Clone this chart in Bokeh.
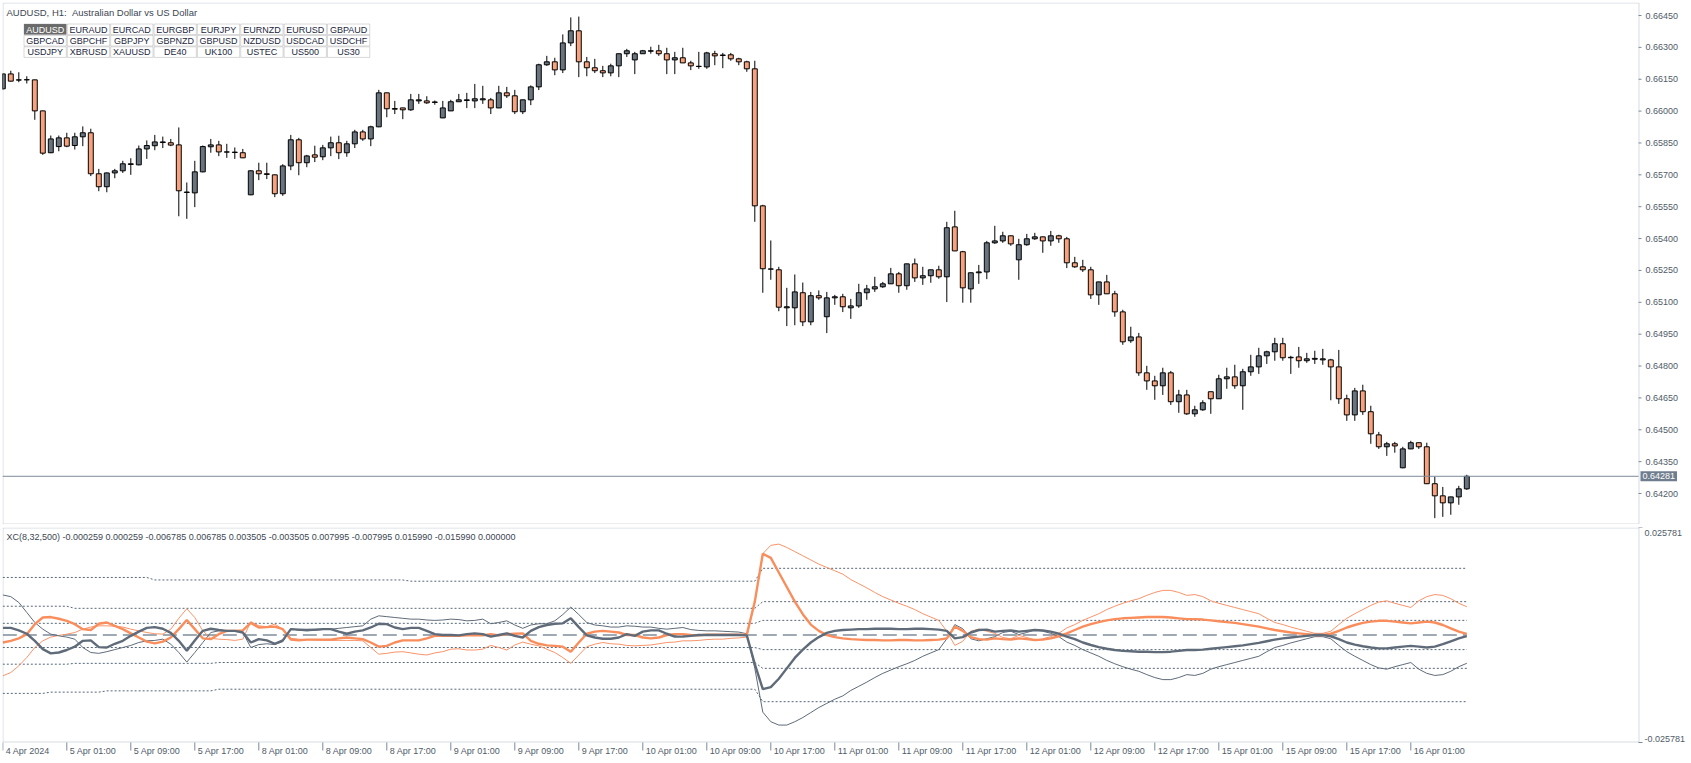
from bokeh.plotting import figure
from bokeh.models import (ColumnDataSource, Range1d, Label, LabelSet, BoxAnnotation)
from bokeh.core.properties import value
from bokeh.layouts import column
from bokeh.embed import file_html
from bokeh.resources import INLINE

# ---------------- data: AUDUSD H1, 4 Apr 2024 17:00 .. 16 Apr 2024 ----------------
opens = [0.66105, 0.66175, 0.66146, 0.66147, 0.66147, 0.66001, 0.65804, 0.65833, 0.65874, 0.65838,
         0.65879, 0.65898, 0.65705, 0.65644, 0.65709, 0.65719, 0.65749, 0.65747, 0.65822, 0.65837,
         0.65852, 0.65851, 0.65841, 0.65619, 0.65615, 0.65714, 0.65832, 0.65841, 0.65808, 0.65807,
         0.65804, 0.65606, 0.65719, 0.65705, 0.65700, 0.65611, 0.65742, 0.65865, 0.65757, 0.65794,
         0.65785, 0.65827, 0.65851, 0.65804, 0.65846, 0.65902, 0.65869, 0.65926, 0.66086, 0.66012,
         0.66015, 0.66006, 0.66048, 0.66048, 0.66041, 0.65968, 0.66001, 0.66044, 0.66050, 0.66048,
         0.66053, 0.66053, 0.66015, 0.66086, 0.66072, 0.65997, 0.66053, 0.66114, 0.66218, 0.66232,
         0.66194, 0.66321, 0.66378, 0.66232, 0.66204, 0.66190, 0.66180, 0.66213, 0.66270, 0.66241,
         0.66270, 0.66282, 0.66284, 0.66270, 0.66241, 0.66251, 0.66227, 0.66210, 0.66208, 0.66270,
         0.66262, 0.66265, 0.66246, 0.66232, 0.66199, 0.65554, 0.65256, 0.65253, 0.65074, 0.65074,
         0.65145, 0.65008, 0.65131, 0.65032, 0.65121, 0.65126, 0.65074, 0.65083, 0.65145, 0.65163,
         0.65173, 0.65187, 0.65234, 0.65178, 0.65281, 0.65215, 0.65225, 0.65253, 0.65220, 0.65455,
         0.65338, 0.65163, 0.65239, 0.65243, 0.65380, 0.65389, 0.65413, 0.65300, 0.65371, 0.65399,
         0.65408, 0.65389, 0.65413, 0.65399, 0.65286, 0.65267, 0.65253, 0.65135, 0.65196, 0.65140,
         0.65055, 0.64919, 0.64937, 0.64768, 0.64730, 0.64707, 0.64768, 0.64632, 0.64664, 0.64575,
         0.64594, 0.64679, 0.64646, 0.64740, 0.64749, 0.64707, 0.64773, 0.64796, 0.64848, 0.64867,
         0.64905, 0.64839, 0.64843, 0.64825, 0.64832, 0.64829, 0.64829, 0.64796, 0.64646, 0.64570,
         0.64683, 0.64585, 0.64476, 0.64420, 0.64434, 0.64321, 0.64410, 0.64439, 0.64420, 0.64246,
         0.64189, 0.64156, 0.64184, 0.64222]
highs = [0.66178, 0.66190, 0.66183, 0.66164, 0.66148, 0.66002, 0.65885, 0.65885, 0.65898, 0.65898,
         0.65928, 0.65917, 0.65728, 0.65711, 0.65728, 0.65766, 0.65778, 0.65838, 0.65862, 0.65888,
         0.65880, 0.65869, 0.65923, 0.65664, 0.65766, 0.65838, 0.65869, 0.65860, 0.65846, 0.65829,
         0.65822, 0.65721, 0.65757, 0.65757, 0.65701, 0.65750, 0.65888, 0.65874, 0.65794, 0.65837,
         0.65841, 0.65880, 0.65884, 0.65860, 0.65912, 0.65912, 0.65931, 0.66100, 0.66087, 0.66048,
         0.66016, 0.66081, 0.66081, 0.66070, 0.66050, 0.66048, 0.66053, 0.66081, 0.66086, 0.66128,
         0.66119, 0.66062, 0.66119, 0.66114, 0.66100, 0.66054, 0.66121, 0.66223, 0.66260, 0.66251,
         0.66361, 0.66441, 0.66445, 0.66255, 0.66246, 0.66213, 0.66223, 0.66271, 0.66293, 0.66279,
         0.66288, 0.66303, 0.66312, 0.66298, 0.66279, 0.66298, 0.66237, 0.66279, 0.66279, 0.66284,
         0.66274, 0.66274, 0.66251, 0.66237, 0.66237, 0.65559, 0.65391, 0.65267, 0.65168, 0.65231,
         0.65193, 0.65149, 0.65156, 0.65149, 0.65135, 0.65140, 0.65116, 0.65187, 0.65182, 0.65220,
         0.65196, 0.65262, 0.65243, 0.65282, 0.65306, 0.65267, 0.65254, 0.65272, 0.65479, 0.65531,
         0.65342, 0.65240, 0.65276, 0.65389, 0.65460, 0.65432, 0.65414, 0.65399, 0.65422, 0.65427,
         0.65409, 0.65436, 0.65418, 0.65408, 0.65314, 0.65300, 0.65267, 0.65197, 0.65229, 0.65154,
         0.65065, 0.64985, 0.64956, 0.64801, 0.64754, 0.64792, 0.64777, 0.64688, 0.64688, 0.64613,
         0.64639, 0.64680, 0.64759, 0.64792, 0.64806, 0.64787, 0.64853, 0.64886, 0.64872, 0.64933,
         0.64933, 0.64848, 0.64890, 0.64862, 0.64872, 0.64881, 0.64834, 0.64876, 0.64665, 0.64697,
         0.64712, 0.64613, 0.64490, 0.64443, 0.64443, 0.64420, 0.64448, 0.64440, 0.64439, 0.64279,
         0.64231, 0.64185, 0.64236, 0.64288]
lows = [0.66100, 0.66139, 0.66136, 0.66130, 0.65959, 0.65794, 0.65802, 0.65811, 0.65830, 0.65819,
        0.65835, 0.65694, 0.65623, 0.65618, 0.65684, 0.65709, 0.65700, 0.65745, 0.65775, 0.65816,
        0.65826, 0.65835, 0.65505, 0.65493, 0.65548, 0.65712, 0.65804, 0.65788, 0.65780, 0.65775,
        0.65779, 0.65604, 0.65675, 0.65680, 0.65595, 0.65601, 0.65722, 0.65698, 0.65736, 0.65760,
        0.65769, 0.65788, 0.65774, 0.65785, 0.65826, 0.65860, 0.65835, 0.65924, 0.65971, 0.65986,
        0.65962, 0.66001, 0.66034, 0.66034, 0.66030, 0.65967, 0.66000, 0.66043, 0.66014, 0.66014,
        0.66034, 0.65986, 0.66014, 0.66062, 0.65986, 0.65986, 0.66028, 0.66099, 0.66213, 0.66169,
        0.66179, 0.66306, 0.66160, 0.66164, 0.66179, 0.66160, 0.66164, 0.66160, 0.66255, 0.66174,
        0.66269, 0.66270, 0.66260, 0.66174, 0.66174, 0.66226, 0.66193, 0.66199, 0.66199, 0.66216,
        0.66202, 0.66237, 0.66216, 0.66185, 0.65479, 0.65145, 0.65206, 0.65058, 0.64988, 0.64992,
        0.64988, 0.64992, 0.65112, 0.64955, 0.65088, 0.65054, 0.65022, 0.65074, 0.65112, 0.65149,
        0.65168, 0.65186, 0.65145, 0.65159, 0.65196, 0.65182, 0.65192, 0.65211, 0.65101, 0.65341,
        0.65098, 0.65098, 0.65187, 0.65209, 0.65375, 0.65380, 0.65366, 0.65206, 0.65366, 0.65394,
        0.65333, 0.65366, 0.65380, 0.65261, 0.65262, 0.65243, 0.65116, 0.65088, 0.65139, 0.65032,
        0.64900, 0.64909, 0.64754, 0.64688, 0.64641, 0.64664, 0.64617, 0.64580, 0.64570, 0.64561,
        0.64589, 0.64575, 0.64645, 0.64693, 0.64693, 0.64594, 0.64754, 0.64763, 0.64810, 0.64825,
        0.64825, 0.64763, 0.64792, 0.64815, 0.64810, 0.64806, 0.64639, 0.64622, 0.64542, 0.64542,
        0.64570, 0.64434, 0.64410, 0.64377, 0.64392, 0.64319, 0.64409, 0.64410, 0.64245, 0.64084,
        0.64090, 0.64100, 0.64147, 0.64217]
closes = [0.66175, 0.66141, 0.66147, 0.66148, 0.66001, 0.65802, 0.65869, 0.65874, 0.65835, 0.65879,
          0.65898, 0.65705, 0.65644, 0.65709, 0.65719, 0.65752, 0.65752, 0.65822, 0.65838, 0.65855,
          0.65855, 0.65840, 0.65625, 0.65617, 0.65714, 0.65833, 0.65841, 0.65808, 0.65807, 0.65805,
          0.65780, 0.65719, 0.65705, 0.65702, 0.65611, 0.65742, 0.65865, 0.65757, 0.65789, 0.65783,
          0.65827, 0.65851, 0.65804, 0.65846, 0.65902, 0.65869, 0.65926, 0.66086, 0.66011, 0.66009,
          0.66006, 0.66053, 0.66053, 0.66039, 0.66043, 0.66015, 0.66044, 0.66053, 0.66053, 0.66058,
          0.66058, 0.66015, 0.66086, 0.66072, 0.65997, 0.66053, 0.66114, 0.66218, 0.66232, 0.66194,
          0.66321, 0.66378, 0.66232, 0.66204, 0.66190, 0.66180, 0.66213, 0.66270, 0.66284, 0.66270,
          0.66284, 0.66284, 0.66270, 0.66241, 0.66251, 0.66227, 0.66213, 0.66211, 0.66274, 0.66260,
          0.66264, 0.66246, 0.66232, 0.66199, 0.65554, 0.65258, 0.65257, 0.65077, 0.65079, 0.65149,
          0.65008, 0.65131, 0.65121, 0.65121, 0.65126, 0.65079, 0.65083, 0.65145, 0.65163, 0.65173,
          0.65187, 0.65234, 0.65178, 0.65281, 0.65215, 0.65225, 0.65253, 0.65220, 0.65451, 0.65342,
          0.65168, 0.65239, 0.65243, 0.65380, 0.65389, 0.65413, 0.65375, 0.65371, 0.65399, 0.65408,
          0.65389, 0.65413, 0.65399, 0.65286, 0.65267, 0.65253, 0.65135, 0.65196, 0.65140, 0.65055,
          0.64914, 0.64937, 0.64768, 0.64730, 0.64707, 0.64768, 0.64632, 0.64664, 0.64575, 0.64594,
          0.64627, 0.64646, 0.64740, 0.64749, 0.64707, 0.64773, 0.64796, 0.64848, 0.64867, 0.64905,
          0.64839, 0.64841, 0.64825, 0.64834, 0.64836, 0.64834, 0.64796, 0.64646, 0.64570, 0.64683,
          0.64585, 0.64481, 0.64420, 0.64434, 0.64424, 0.64410, 0.64439, 0.64420, 0.64246, 0.64189,
          0.64156, 0.64184, 0.64222, 0.64281]

# XC(8,32,500) indicator, values in thousandths (0.001)
xc_thick_grey_m = [
    1.7, 1.7, 1.1, 0.3, -1.4, -3.4, -4.4, -4.2, -3.6, -2.8,
    -1.4, -1.3, -2.9, -3.0, -2.1, -1.4, -0.2, 0.8, 1.7, 1.9,
    1.5, 0.5, -1.4, -3.8, -1.3, 1.0, 1.5, 1.2, 1.0, 1.0,
    0.6, -1.8, -1.0, -1.3, -2.1, -1.3, 1.4, 1.3, 1.2, 1.3,
    1.4, 1.4, 0.8, 0.3, 0.8, 1.1, 1.8, 2.7, 2.6, 1.8,
    1.4, 1.7, 1.7, 1.0, 0.2, 0.0, 0.0, -0.1, 0.2, 0.4,
    0.2, -0.4, 0.0, 0.4, -0.2, -0.6, 1.0, 1.9, 2.4, 2.7,
    2.8, 4.0, 1.9, -0.1, -0.6, -0.9, -0.9, -0.6, 0.2, -0.2,
    0.8, 1.1, 1.1, 0.3, -0.4, -0.4, -0.2, 0.0, 0.0, 0.0,
    0.0, 0.0, 0.0, -0.1, -7.0,
    -13.0, -12.5, -10.5, -8.0, -5.5, -3.5, -1.8, -0.5, 0.5, 1.0, 1.2,
    1.3, 1.4, 1.4, 1.5, 1.5, 1.5, 1.4, 1.4, 1.5, 1.5, 1.4, 1.3,
    1.0, -0.8, -0.5, 0.6, 1.2, 1.3,
    0.8, 1.0, 1.1, 0.8, 1.0, 1.2, 1.1, 0.8, 0.3, -0.4,
    -1.0, -1.8, -2.4, -2.9, -3.3, -3.6, -3.8, -3.9, -4.0,
    -4.0, -4.1, -4.1, -4.0, -3.8, -3.6, -3.6, -3.5, -3.3, -3.1,
    -2.9, -2.7, -2.5, -2.2, -1.9, -1.5, -1.1, -0.8, -0.6, -0.4,
    -0.2, 0.0, 0.0, -0.3, -1.0,
    -1.8, -2.3, -2.7, -3.0, -3.2, -3.2, -3.0, -2.8, -2.6,
    -2.8, -3.0, -2.8, -2.2, -1.5, -0.8, -0.259]
xc_thick_orange_m = [
    -1.8, -1.4, -0.8, 0.2, 2.6, 4.2, 4.3, 3.9, 3.4, 2.6,
    1.4, 1.2, 2.7, 3.0, 2.2, 1.4, 0.4, -0.6, -1.6, -2.0,
    -1.6, -0.6, 1.4, 3.6, 1.4, -0.8, -1.0, 0.2, 1.0, 1.0,
    1.1, 2.9, 1.8, 1.9, 2.0, 1.4, -1.1, -1.3, -1.1, -1.1,
    -1.1, -1.1, -0.8, -0.6, -0.8, -1.0, -1.8, -2.8, -2.6, -1.8,
    -1.3, -1.3, -1.3, -0.8, -0.2, -0.2, -0.2, -0.2, -0.1, 0.0,
    -0.1, 0.2, -0.1, 0.2, 0.3, 0.4, -1.4, -2.1, -2.5, -2.6,
    -2.8, -4.0, -1.8, 0.3, 0.8, 1.0, 0.8, 0.6, 0.0, 0.0,
    -0.6, -0.8, -0.6, 0.0, 0.2, 0.2, 0.0, -0.1, 0.1, 0.1,
    0.1, 0.1, 0.1, 0.1, 8.0,
    19.5, 18.5, 15.0, 11.5, 8.0, 5.0, 2.5, 1.0, 0.0, -0.5, -0.8,
    -1.0, -1.1, -1.2, -1.2, -1.3, -1.3, -1.2, -1.2, -1.3, -1.3, -1.2, -1.1,
    -0.8, 2.0, 1.0, -0.5, -1.0, -1.1,
    -0.8, -1.0, -1.1, -0.8, -1.0, -1.2, -1.1, -0.8, -0.3, 0.4,
    1.2, 2.0, 2.6, 3.1, 3.5, 3.8, 4.0, 4.1, 4.2,
    4.3, 4.3, 4.3, 4.2, 4.0, 3.8, 3.8, 3.7, 3.5, 3.3,
    3.1, 2.9, 2.6, 2.3, 2.0, 1.6, 1.2, 0.9, 0.6, 0.4,
    0.2, 0.0, 0.0, 0.3, 1.0,
    1.8, 2.4, 2.9, 3.2, 3.4, 3.4, 3.2, 3.0, 2.8,
    3.0, 3.2, 3.0, 2.4, 1.6, 0.8, 0.259]
xc_thin_grey_m = [
    9.6, 9.2, 7.8, 5.4, 3.0, 1.4, 0.2, -0.2, -0.5, -1.0,
    -3.0, -4.2, -4.4, -4.0, -3.5, -3.0, -2.5, -1.8, -1.4, -1.3,
    -1.0, -2.2, -4.2, -6.5, -4.2, -1.8, 0.6, 1.0, 1.0, 1.0,
    0.6, -3.0, -2.3, -2.1, -2.3, -1.6, 1.5, 1.1, 1.0, 1.1,
    1.3, 1.4, 1.6, 1.8, 2.0, 2.2, 3.8, 4.6, 4.4, 4.2,
    4.0, 3.8, 3.8, 3.6, 3.5, 3.6, 3.8, 3.7, 3.4, 3.5,
    3.8, 2.7, 3.0, 3.4, 2.4, 1.6, 2.4, 2.7, 2.7, 3.4,
    4.9, 6.7, 4.9, 3.0, 2.4, 2.2, 1.9, 1.9, 2.2, 2.1,
    1.9, 1.9, 1.6, 1.4, 1.6, 1.8, 1.3, 1.1, 1.0, 1.0,
    0.9, 0.8, 0.7, 0.3, -8.0,
    -18.5, -20.8, -21.6, -21.6, -20.8, -19.8, -18.6, -17.4, -16.4, -15.4, -14.6,
    -13.3, -12.3, -11.3, -10.2, -9.2, -8.4, -7.6, -6.9, -6.1, -5.1, -4.3, -3.5,
    -0.9, 2.5, 1.5, -0.9, -1.4, -0.9,
    -0.4, 0.6, 0.9, 0.1, 0.6, 1.2, 0.9, 0.4, -0.4, -1.7,
    -2.5, -3.5, -4.3, -5.1, -6.1, -6.9, -7.6, -8.2, -8.7,
    -9.5, -10.2, -10.7, -10.7, -10.2, -9.5, -9.7, -9.2, -8.2, -7.6,
    -7.1, -6.6, -6.1, -5.6, -5.1, -4.0, -3.0, -2.5, -1.9, -1.4,
    -0.9, -0.4, -0.4, -0.9, -2.5,
    -4.0, -5.1, -6.1, -7.1, -7.9, -8.2, -7.6, -7.1, -6.6,
    -8.2, -9.2, -9.7, -9.5, -8.7, -7.6, -6.785]
xc_thin_orange_m = [
    -9.8, -9.0, -7.4, -5.4, -3.0, -1.4, -0.5, -0.1, 0.2, 0.6,
    1.4, 1.9, 2.2, 2.2, 2.1, 1.9, 1.4, 1.0, 0.6, 0.3,
    0.2, 1.4, 4.0, 6.3, 4.2, 1.0, -0.8, -1.0, -1.1, -1.3,
    -1.0, 3.2, 2.2, 2.0, 2.6, 1.4, -0.8, -1.0, -1.1, -1.2,
    -1.3, -1.3, -1.3, -1.3, -1.3, -1.4, -3.0, -4.6, -4.4, -4.1,
    -4.0, -4.3, -4.6, -4.8, -4.3, -4.0, -3.4, -3.3, -3.6, -3.6,
    -3.4, -2.5, -3.0, -3.6, -2.4, -1.7, -2.2, -2.6, -3.4, -4.2,
    -5.4, -6.8, -4.8, -2.8, -2.2, -1.8, -2.1, -2.2, -2.5, -2.6,
    -2.5, -2.4, -2.1, -1.8, -1.7, -1.4, -1.4, -1.3, -1.1, -1.0,
    -1.0, -0.8, -0.7, -0.5, 8.0,
    19.5, 21.5, 21.8, 21.0, 20.0, 19.0, 18.0, 17.0, 16.2, 15.4, 14.6,
    13.3, 12.3, 11.3, 10.2, 9.2, 8.4, 7.6, 6.9, 6.1, 5.1, 4.3, 3.5,
    0.9, -2.5, -1.5, 0.9, 1.4, 0.9,
    0.4, -0.6, -0.9, -0.1, -0.6, -1.2, -0.9, -0.4, 0.4, 1.7,
    2.5, 3.5, 4.3, 5.1, 6.1, 6.9, 7.6, 8.2, 8.7,
    9.5, 10.2, 10.7, 10.7, 10.2, 9.5, 9.7, 9.2, 8.2, 7.6,
    7.1, 6.6, 6.1, 5.6, 5.1, 4.0, 3.0, 2.5, 1.9, 1.4,
    0.9, 0.4, 0.4, 0.9, 2.5,
    4.0, 5.1, 6.1, 7.1, 7.9, 8.2, 7.6, 7.1, 6.6,
    8.2, 9.2, 9.7, 9.5, 8.7, 7.6, 6.785]
# dashed level lines (thousandths), run-length
xc_up3_m = [13.8] * 19 + [13.2] * 32 + [12.9] * 44 + [15.99] * 89
xc_up2_m = [6.9] * 9 + [6.4] * 86 + [7.995] * 89
xc_up1_m = [2.8] * 95 + [3.505] * 89
xc_dn1_m = [-3.0] * 95 + [-3.505] * 89
xc_dn2_m = [-7.0] * 9 + [-6.8] * 18 + [-6.6] * 68 + [-7.995] * 89
xc_dn3_m = [-14.0] * 6 + [-13.7] * 7 + [-13.4] * 14 + [-13.0] * 68 + [-15.99] * 89
xc_last_values = [-0.000259, 0.000259, -0.006785, 0.006785, 0.003505, -0.003505,
                  0.007995, -0.007995, 0.015990, -0.015990, 0.000000]
xc_axis_ticks = [0.025781, -0.025781]

price_ticks = [0.66450, 0.66300, 0.66150, 0.66000, 0.65850, 0.65700, 0.65550, 0.65400,
               0.65250, 0.65100, 0.64950, 0.64800, 0.64650, 0.64500, 0.64350, 0.64200]
last_price = 0.64281
time_label_bars = [0, 8, 16, 24, 32, 40, 48, 56, 64, 72, 80, 88, 96, 104, 112, 120,
                   128, 136, 144, 152, 160, 168, 176]
time_labels = ["4 Apr 2024", "5 Apr 01:00", "5 Apr 09:00", "5 Apr 17:00", "8 Apr 01:00",
               "8 Apr 09:00", "8 Apr 17:00", "9 Apr 01:00", "9 Apr 09:00", "9 Apr 17:00",
               "10 Apr 01:00", "10 Apr 09:00", "10 Apr 17:00", "11 Apr 01:00", "11 Apr 09:00",
               "11 Apr 17:00", "12 Apr 01:00", "12 Apr 09:00", "12 Apr 17:00", "15 Apr 01:00",
               "15 Apr 09:00", "15 Apr 17:00", "16 Apr 01:00"]
symbols = ["AUDUSD", "EURAUD", "EURCAD", "EURGBP", "EURJPY", "EURNZD", "EURUSD", "GBPAUD",
           "GBPCAD", "GBPCHF", "GBPJPY", "GBPNZD", "GBPUSD", "NZDUSD", "USDCAD", "USDCHF",
           "USDJPY", "XBRUSD", "XAUUSD", "DE40", "UK100", "USTEC", "US500", "US30"]
title_text = "AUDUSD, H1: \u00a0Australian Dollar vs US Dollar"

# ---------------- styling / layout ----------------
FONT = "Liberation Sans"
TXT = "#4f5b68"
FRAME = "#7b8a9a"
BULL = "#69747f"
BEAR = "#f7a17d"
ORANGE = "#f98d5c"
ORANGE_THIN = "#f9936a"
GREYL = "#5f6b79"
DASH = "#56677a"

W = 1690            # figure width
FW = W - 2          # plotting frame width (includes right scale area)
VW = 1636           # visible chart box width (price scale drawn to its right)
TOP_H = 522         # top chart box height
BOT_H = 215         # indicator box height
BOT_AX = 20         # time-scale strip below indicator box
PX_PER_BAR = 8.0

n = len(opens)
bars = list(range(n))
x_start = -0.0375
x_bound = x_start + VW / PX_PER_BAR
xr = Range1d(x_start, x_start + FW / PX_PER_BAR)


def box(h, bottom=0.0):
    return BoxAnnotation(left=0.5, right=VW + 0.5, top=h - 0.5 + bottom, bottom=bottom + 0.5,
                         left_units="screen", right_units="screen",
                         top_units="screen", bottom_units="screen",
                         fill_color=None, line_color=FRAME, line_width=1)


# ---------------- top: candles ----------------
p1 = figure(width=W, height=2 + TOP_H, x_range=xr,
            y_range=Range1d(0.640541, 0.665112),
            x_axis_location=None, y_axis_location=None,
            output_backend="svg", toolbar_location=None,
            min_border_left=2, min_border_right=0, min_border_top=2, min_border_bottom=0)
p1.grid.visible = False
p1.outline_line_color = None
p1.background_fill_color = "white"
p1.border_fill_color = "white"

tops = [max(o, c) for o, c in zip(opens, closes)]
bots = [min(o, c) for o, c in zip(opens, closes)]
cols = [BULL if c > o else BEAR for o, c in zip(opens, closes)]
src = ColumnDataSource(dict(x=bars, h=highs, l=lows, top=tops, bottom=bots, color=cols))
p1.segment(x0="x", y0="h", x1="x", y1="l", source=src, line_color="black", line_width=1)
p1.vbar(x="x", width=0.62, top="top", bottom="bottom", fill_color="color",
        line_color="black", line_width=1, source=src)

# current price line (ends at the chart box edge)
p1.segment(x0=[x_start], y0=[last_price], x1=[x_bound], y1=[last_price],
           line_color=FRAME, line_width=1)

p1.add_layout(box(TOP_H))

# price scale on the right
p1.segment(x0=[x_bound] * len(price_ticks), y0=price_ticks,
           x1=[x_bound + 3 / PX_PER_BAR] * len(price_ticks), y1=price_ticks,
           line_color=FRAME, line_width=1)
psrc = ColumnDataSource(dict(y=price_ticks, text=[f"{v:.5f}" for v in price_ticks]))
p1.add_layout(LabelSet(x=VW + 7, x_units="screen", y="y", text="text", source=psrc,
                       text_baseline="middle", text_font=value(FONT),
                       text_font_size=value("9px"), text_color=TXT))
p1.add_layout(Label(x=VW + 2, x_units="screen", y=last_price, text=f"{last_price:.5f}",
                    text_baseline="middle", text_font=FONT, text_font_size="9px",
                    text_color="white", background_fill_color="#6f7e8e",
                    padding=2))

p1.add_layout(Label(x=4, y=TOP_H - 4, x_units="screen", y_units="screen", text=title_text,
                    text_baseline="top", text_font=FONT, text_font_size="9.5px",
                    text_color="#3c4652"))

for i, s in enumerate(symbols):
    r, c = divmod(i, 8)
    left = 21.5 + 43.35 * c
    top = TOP_H - 21.5 - 11.4 * r
    active = (i == 0)
    p1.add_layout(BoxAnnotation(left=left, right=left + 42.3, top=top, bottom=top - 10.6,
                                left_units="screen", right_units="screen",
                                top_units="screen", bottom_units="screen",
                                fill_color="#6a6a6a" if active else "white", fill_alpha=1,
                                line_color="#7d7d7d", line_width=1, level="overlay"))
    p1.add_layout(Label(x=left + 21.15, y=top - 5.5, x_units="screen", y_units="screen",
                        text=s, text_align="center", text_baseline="middle",
                        text_font=FONT, text_font_size="9px",
                        text_color="white" if active else "#1c2740", level="overlay"))

# ---------------- bottom: XC indicator ----------------
per_px = (xc_axis_ticks[0] - xc_axis_ticks[1]) / BOT_H
p2 = figure(width=W, height=3 + BOT_H + BOT_AX - 1, x_range=xr,
            y_range=Range1d(xc_axis_ticks[1] - (BOT_AX - 1) * per_px, xc_axis_ticks[0]),
            x_axis_location=None, y_axis_location=None,
            output_backend="svg", toolbar_location=None,
            min_border_left=2, min_border_right=0, min_border_top=3, min_border_bottom=0)
p2.grid.visible = False
p2.outline_line_color = None
p2.background_fill_color = "white"


def milli(vals):
    return [v / 1000.0 for v in vals]


for band in (xc_up3_m, xc_up2_m, xc_up1_m, xc_dn1_m, xc_dn2_m, xc_dn3_m):
    p2.line(x=bars, y=milli(band), line_color=DASH, line_width=1, line_dash="2 2")
p2.line(x=[bars[0], bars[-1]], y=[xc_last_values[-1]] * 2, line_color="#7f8d9c",
        line_width=1.5, line_dash="14 6")

p2.line(x=bars, y=milli(xc_thin_orange_m), line_color=ORANGE_THIN, line_width=1)
p2.line(x=bars, y=milli(xc_thin_grey_m), line_color=GREYL, line_width=1)
p2.line(x=bars, y=milli(xc_thick_orange_m), line_color=ORANGE, line_width=2.4)
p2.line(x=bars, y=milli(xc_thick_grey_m), line_color=GREYL, line_width=2.4)

p2.add_layout(box(BOT_H, bottom=BOT_AX - 1))

ind_text = "XC(8,32,500) " + " ".join(f"{v:.6f}" for v in xc_last_values)
p2.add_layout(Label(x=4, y=BOT_AX - 1 + BOT_H - 4, x_units="screen", y_units="screen",
                    text=ind_text, text_baseline="top", text_font=FONT,
                    text_font_size="9px", text_color="#3c4652"))

# indicator scale (right)
p2.segment(x0=[x_bound] * 2, y0=xc_axis_ticks, x1=[x_bound + 4 / PX_PER_BAR] * 2,
           y1=xc_axis_ticks, line_color=FRAME, line_width=1)
p2.add_layout(Label(x=VW + 6, x_units="screen", y=xc_axis_ticks[0], text=f"{xc_axis_ticks[0]:.6f}",
                    text_baseline="top", y_offset=-2, text_font=FONT, text_font_size="9px",
                    text_color=TXT))
p2.add_layout(Label(x=VW + 6, x_units="screen", y=xc_axis_ticks[1], text=f"{xc_axis_ticks[1]:.6f}",
                    text_baseline="bottom", y_offset=1, text_font=FONT, text_font_size="9px",
                    text_color=TXT))

# time scale (below)
tick_len = 8 * per_px
p2.segment(x0=time_label_bars, y0=[xc_axis_ticks[1]] * len(time_label_bars),
           x1=time_label_bars, y1=[xc_axis_ticks[1] - tick_len] * len(time_label_bars),
           line_color=FRAME, line_width=1)
lsrc = ColumnDataSource(dict(x=time_label_bars, text=time_labels))
p2.add_layout(LabelSet(x="x", y=BOT_AX - 4, y_units="screen", text="text", source=lsrc,
                       x_offset=3, text_baseline="top", text_font=value(FONT),
                       text_font_size=value("9px"), text_color=TXT))

layout = column(p1, p2, spacing=0)
open("out.html", "w").write(file_html(layout, INLINE))
